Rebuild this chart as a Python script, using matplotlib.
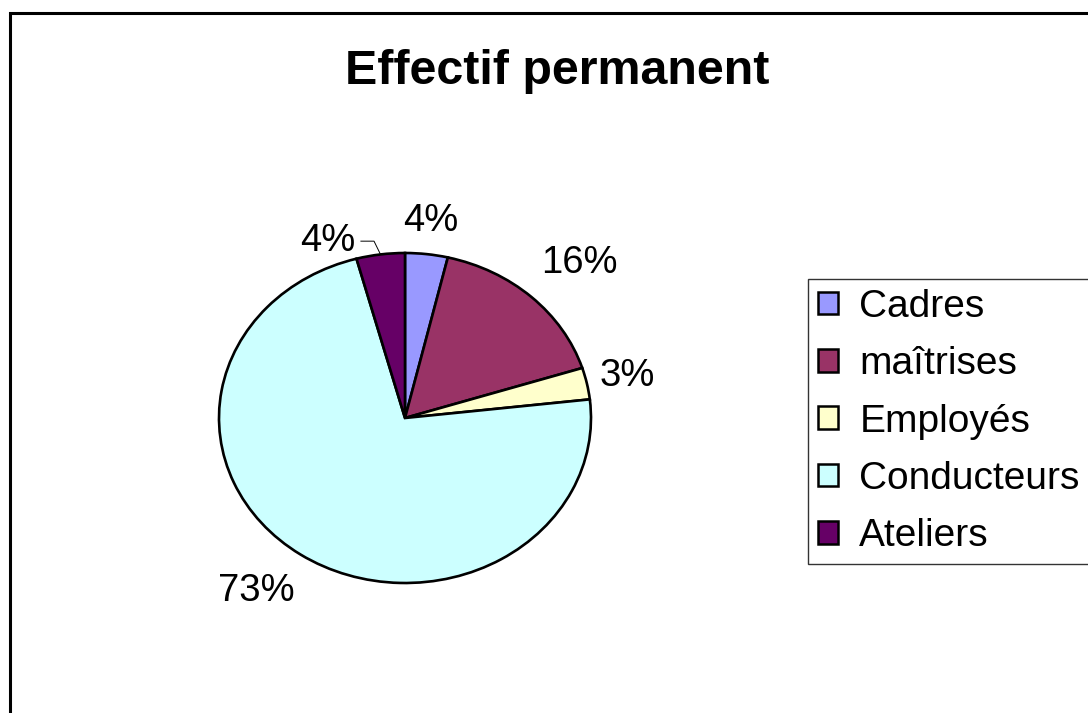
import numpy as np
import matplotlib
matplotlib.use('Agg')
import matplotlib.pyplot as plt
from matplotlib.patches import Rectangle

plt.rcParams['font.family'] = ['Liberation Sans', 'DejaVu Sans']

categories = ['Cadres', 'maîtrises', 'Employés', 'Conducteurs', 'Ateliers']
values = [3.7, 16.4, 3.1, 72.6, 4.2]
colors = ['#9999FF', '#993366', '#FFFFCC', '#CCFFFF', '#660066']
title = 'Effectif permanent'

W, H = 1088, 713
fig = plt.figure(figsize=(W / 100, H / 100), dpi=100)

# pie axes: ellipse centre (405, 418) px, radii 186 x 165 px, limits +-1.5
cx, cy, rx, ry = 405, 418, 186, 165
ax = fig.add_axes([(cx - 1.5 * rx) / W, (H - cy - 1.5 * ry) / H, 3 * rx / W, 3 * ry / H])
wedges, _ = ax.pie(values, colors=colors, startangle=90, counterclock=False,
                   wedgeprops=dict(edgecolor='black', linewidth=1.9))
ax.set_aspect('auto')
ax.set_xlim(-1.5, 1.5)
ax.set_ylim(-1.5, 1.5)
ax.axis('off')

# percentage labels outside the pie
dist = [1.2, 1.33, 1.22, 1.32, 1.15]
shift = [0, -2.1, 0, -3.0, 13.7]
for i, (w, v, d, s) in enumerate(zip(wedges, values, dist, shift)):
    mid = (w.theta1 + w.theta2) / 2
    a = np.deg2rad(mid + s)
    lx, ly = d * np.cos(a), d * np.sin(a)
    ax.text(lx, ly, f'{v:.0f}%', ha='center', va='center', fontsize=27.5)
    if i == len(values) - 1:
        # leader line for the last (displaced) label
        m = np.deg2rad(mid)
        ex, ey = np.cos(m), np.sin(m)
        ax.plot([lx + 0.18, ex - 0.035, ex], [ly, ly, ey], color='black', lw=0.7)

fig.text(557 / W, 1 - 72 / H, title, ha='center', va='center', fontsize=34.8, fontweight='bold')

leg = fig.legend(wedges, categories, loc='upper left', bbox_to_anchor=(808 / W, 1 - 279 / H),
                 frameon=True, fancybox=False, edgecolor='black', fontsize=28,
                 handlelength=0.52, handleheight=0.52, handletextpad=0.55,
                 labelspacing=0.55, borderpad=0.25, borderaxespad=0)
leg.get_frame().set_linewidth(1.0)
for h in leg.legend_handles:
    h.set_linewidth(1.8)

# outer chart border
fig.add_artist(Rectangle((10 / W, -0.1), 1.2, 1 - 13 / H + 0.1, transform=fig.transFigure,
                         fill=False, edgecolor='black', linewidth=2.2))

fig.savefig('out.png', dpi=100)
